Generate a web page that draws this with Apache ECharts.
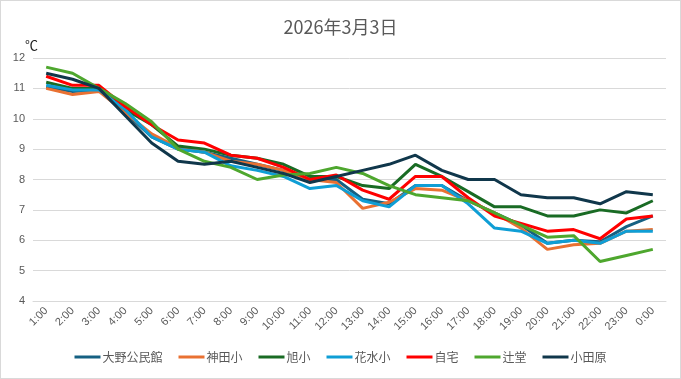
<!DOCTYPE html>
<html>
<head>
<meta charset="utf-8">
<script src="https://cdn.jsdelivr.net/npm/echarts@6/dist/echarts.min.js"></script>
<style>
html,body{margin:0;padding:0;background:#fff;}
#c{width:679px;height:377px;border:1px solid #d9d9d9;}
</style>
</head>
<body>
<div id="c"></div>
<script>
const categories = ['1:00','2:00','3:00','4:00','5:00','6:00','7:00','8:00','9:00','10:00','11:00','12:00','13:00','14:00','15:00','16:00','17:00','18:00','19:00','20:00','21:00','22:00','23:00','0:00'];
const yTicks = [4,5,6,7,8,9,10,11,12];
const ohno    = [11.05,10.9,10.95,10.2,9.4,9.0,8.9,8.7,8.5,8.3,8.0,8.0,7.35,7.2,7.8,7.8,7.3,6.9,6.5,5.9,6.0,5.95,6.45,6.8];
const kanda   = [11.0,10.8,10.9,10.2,9.5,9.05,8.9,8.6,8.5,8.3,8.0,7.9,7.05,7.25,7.7,7.65,7.3,6.9,6.4,5.7,5.85,5.9,6.3,6.35];
const asahi   = [11.2,11.0,11.0,10.3,9.8,9.1,9.0,8.8,8.7,8.5,8.1,8.1,7.8,7.7,8.5,8.1,7.6,7.1,7.1,6.8,6.8,7.0,6.9,7.3];
const hanamizu= [11.1,10.95,10.95,10.3,9.4,9.0,8.9,8.45,8.3,8.1,7.7,7.8,7.3,7.1,7.8,7.8,7.2,6.4,6.3,5.9,6.0,5.9,6.3,6.3];
const jitaku  = [11.4,11.1,11.1,10.4,9.8,9.3,9.2,8.8,8.7,8.4,8.0,8.15,7.65,7.35,8.1,8.1,7.4,6.8,6.55,6.3,6.35,6.05,6.7,6.8];
const tsujido = [11.7,11.5,11.0,10.5,9.9,9.0,8.6,8.4,8.0,8.15,8.2,8.4,8.2,7.8,7.5,7.4,7.3,6.9,6.5,6.1,6.15,5.3,5.5,5.7];
const odawara = [11.5,11.3,11.0,10.1,9.2,8.6,8.5,8.6,8.4,8.2,7.9,8.1,8.3,8.5,8.8,8.3,8.0,8.0,7.5,7.4,7.4,7.2,7.6,7.5];

const seriesDefs = [
  ['大野公民館', ohno, '#156082'],
  ['神田小', kanda, '#E97132'],
  ['旭小', asahi, '#196B24'],
  ['花水小', hanamizu, '#0F9ED5'],
  ['自宅', jitaku, '#FF0000'],
  ['辻堂', tsujido, '#4EA72E'],
  ['小田原', odawara, '#10374B']
];

const chart = echarts.init(document.getElementById('c'));
chart.setOption({
  animation: false,
  textStyle: {fontFamily: '"Noto Sans CJK JP", "Liberation Sans", sans-serif'},
  title: {
    text: '2026年3月3日', left: 'center', top: 12,
    textStyle: {fontSize: 18, fontWeight: 'normal', color: '#595959', fontFamily: '"Noto Sans CJK JP", sans-serif'}
  },
  grid: {left: 32, right: 14, top: 57, bottom: 77},
  legend: {
    bottom: 10, left: 'center', itemWidth: 26, itemHeight: 3, itemGap: 16,
    icon: 'rect',
    textStyle: {color: '#595959', fontSize: 12, padding: [0,0,0,-3]},
    data: seriesDefs.map(s => s[0])
  },
  xAxis: {
    type: 'category', data: categories, boundaryGap: true,
    axisLine: {show: true, lineStyle: {color: '#d9d9d9'}},
    axisTick: {show: false},
    axisLabel: {rotate: 45, color: '#595959', fontSize: 11, margin: 8, interval: 0, fontFamily: '"Liberation Sans", sans-serif'}
  },
  yAxis: {
    type: 'value', min: yTicks[0], max: yTicks[yTicks.length-1], interval: 1,
    name: '℃', nameLocation: 'end', nameGap: 6,
    nameTextStyle: {color: '#222', fontSize: 13, align: 'left', padding: [0,0,0,-8]},
    axisLine: {show: false}, axisTick: {show: false},
    axisLabel: {color: '#595959', fontSize: 11, margin: 8, fontFamily: '"Liberation Sans", sans-serif'},
    splitLine: {lineStyle: {color: '#d9d9d9'}}
  },
  series: seriesDefs.map(s => ({
    name: s[0], type: 'line', data: s[1], color: s[2],
    showSymbol: false, symbol: 'none', smooth: false,
    lineStyle: {width: 3, color: s[2]}
  }))
});
</script>
</body>
</html>
